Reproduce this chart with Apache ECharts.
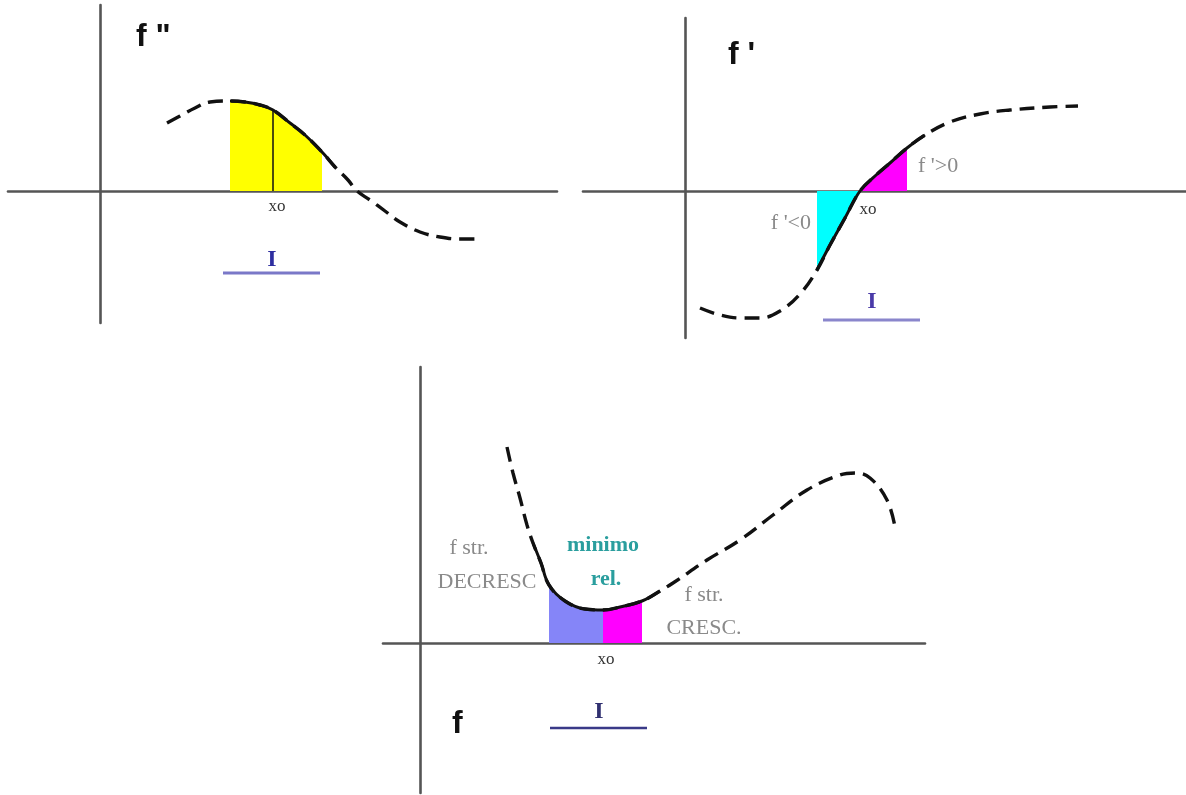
<!DOCTYPE html>
<html>
<head>
<meta charset="utf-8">
<script src="https://cdn.jsdelivr.net/npm/echarts@6/dist/echarts.min.js"></script>
<style>
html,body{margin:0;padding:0;background:#fff;}
#c{width:1186px;height:795px;}
</style>
</head>
<body>
<div id="c"></div>
<script>
// ---------- DATA (each panel in its own coordinates: origin at axes crossing, y up) ----------
// Panel 1: f''
const fppCurve = [[67,68],[80,75],[95,83],[110,89],[130,90],[145,89],[160,86],[173,81],[190,68],[205,56],[222,39],[235,24],[248,11],[257,0],[270,-9],[285,-20],[300,-31],[320,-41],[340,-46],[360,-48],[380,-48]];
const fppSolid = [130, 235];
const fppYellow = [130, 222];
const fppX0 = 173;
const fppInterval = [123, 220];
const fppIntervalY = -82;

// Panel 2: f'
const fpCurve = [[15,-117],[35,-124],[55,-127],[75,-127],[95,-120],[115,-103],[132,-79],[145,-54],[160,-27],[175,0],[190,15],[205,28],[222,43],[240,56],[265,69],[295,77],[325,81],[365,84],[393,85]];
const fpSolid = [132, 240];
const fpCyan = [132, 175];
const fpMagenta = [175, 222];
const fpInterval = [138, 235];
const fpIntervalY = -129;

// Panel 3: f
const fCurve = [[87,196],[93,170],[100,145],[107,118],[113,100],[121,80],[129,58],[145,42],[165,34],[183,33],[200,36],[222,42],[240,52],[253,60],[287,83],[320,103],[353,128],[387,153],[420,168],[435,170],[450,165],[467,143],[475,116]];
const fSolid = [113, 240];
const fBlue = [129, 183];
const fMagenta = [183, 222];
const fInterval = [130, 227];
const fIntervalY = -85;

// Axis extents per panel (data units)
const axX = [[-92, 457], [-102, 501], [-37, 505]];
const axY = [[-132, 186], [-147, 173], [-150, 276]];

// ---------- helpers ----------
function sub(curve, range) { return curve.filter(p => p[0] >= range[0] && p[0] <= range[1]); }

const axisLineStyle = { color: '#555', width: 2.6 };
function mkX(i) {
  return { gridIndex: i, type: 'value', min: axX[i][0], max: axX[i][1],
    axisLine: { onZero: true, lineStyle: axisLineStyle }, axisTick: { show: false },
    axisLabel: { show: false }, splitLine: { show: false } };
}
function mkY(i) {
  return { gridIndex: i, type: 'value', min: axY[i][0], max: axY[i][1],
    axisLine: { onZero: true, lineStyle: axisLineStyle }, axisTick: { show: false },
    axisLabel: { show: false }, splitLine: { show: false } };
}
const SM = 0.4;
function area(i, data, color) {
  return { type: 'line', xAxisIndex: i, yAxisIndex: i, data: data, smooth: SM, symbol: 'none',
    lineStyle: { width: 0, opacity: 0 }, areaStyle: { color: color, opacity: 1 }, z: 1, silent: true };
}
function dashed(i, data) {
  return { type: 'line', xAxisIndex: i, yAxisIndex: i, data: data, smooth: SM, symbol: 'none',
    lineStyle: { color: '#111', width: 3.4, type: [15, 8] }, z: 3, silent: true };
}
function solid(i, data) {
  return { type: 'line', xAxisIndex: i, yAxisIndex: i, data: data, smooth: SM, symbol: 'none',
    lineStyle: { color: '#111', width: 3 }, z: 4, silent: true };
}
function segment(i, data, color, w) {
  return { type: 'line', xAxisIndex: i, yAxisIndex: i, data: data, symbol: 'none',
    lineStyle: { color: color, width: w }, z: 4, silent: true };
}

const serif = '"Liberation Serif", "DejaVu Serif", serif';
const sans = '"Liberation Sans", Arial, sans-serif';
function txt(t, x, y, size, color, family, weight, align) {
  return { type: 'text', x: x, y: y, z: 10, silent: true,
    style: { text: t, fill: color, font: (weight || 'normal') + ' ' + size + 'px ' + family,
      align: align || 'center', verticalAlign: 'middle' } };
}

const chart = echarts.init(document.getElementById('c'));
const option = {
  animation: false,
  backgroundColor: '#fff',
  grid: [
    { left: 8, top: 5, width: 549, height: 318 },
    { left: 583, top: 18, width: 603, height: 320 },
    { left: 383, top: 367, width: 542, height: 426 }
  ],
  xAxis: [mkX(0), mkX(1), mkX(2)],
  yAxis: [mkY(0), mkY(1), mkY(2)],
  series: [
    // panel 1
    area(0, sub(fppCurve, fppYellow), '#ffff00'),
    dashed(0, fppCurve),
    solid(0, sub(fppCurve, fppSolid)),
    segment(0, [[fppX0, 0], sub(fppCurve, [fppX0, fppX0])[0]], '#111', 1.5),
    segment(0, [[fppInterval[0], fppIntervalY], [fppInterval[1], fppIntervalY]], '#7a78c8', 3),
    // panel 2
    area(1, sub(fpCurve, fpCyan), '#00ffff'),
    area(1, sub(fpCurve, fpMagenta), '#ff00ff'),
    dashed(1, fpCurve),
    solid(1, sub(fpCurve, fpSolid)),
    segment(1, [[fpInterval[0], fpIntervalY], [fpInterval[1], fpIntervalY]], '#8a86cc', 3),
    // panel 3
    area(2, sub(fCurve, fBlue), '#8585f8'),
    area(2, sub(fCurve, fMagenta), '#ff00ff'),
    dashed(2, fCurve),
    solid(2, sub(fCurve, fSolid)),
    segment(2, [[fInterval[0], fIntervalY], [fInterval[1], fIntervalY]], '#3a3a88', 2.5)
  ],
  graphic: [
    // panel 1
    txt('f "', 136, 37, 32, '#111', sans, 'bold', 'left'),
    txt('xo', 277, 207, 17, '#333', serif),
    txt('I', 272, 260, 24, '#2e2ea0', serif, 'bold'),
    // panel 2
    txt("f '", 728, 55, 32, '#111', sans, 'bold', 'left'),
    txt("f '<0", 811, 223, 22, '#8a8a8a', serif, 'normal', 'right'),
    txt('xo', 868, 210, 17, '#333', serif),
    txt("f '>0", 918, 166, 22, '#8a8a8a', serif, 'normal', 'left'),
    txt('I', 872, 302, 24, '#4a3aa8', serif, 'bold'),
    // panel 3
    txt('f str.', 469, 548, 22, '#8a8a8a', serif),
    txt('DECRESC', 487, 582, 22, '#8a8a8a', serif),
    txt('minimo', 603, 545, 22, '#2a9e9e', serif, 'bold'),
    txt('rel.', 606, 579, 22, '#2a9e9e', serif, 'bold'),
    txt('f str.', 704, 595, 22, '#8a8a8a', serif),
    txt('CRESC.', 704, 628, 22, '#8a8a8a', serif),
    txt('xo', 606, 660, 17, '#333', serif),
    txt('I', 599, 712, 24, '#303070', serif, 'bold'),
    txt('f', 452, 724, 32, '#111', sans, 'bold', 'left')
  ]
};
chart.setOption(option);
</script>
</body>
</html>
